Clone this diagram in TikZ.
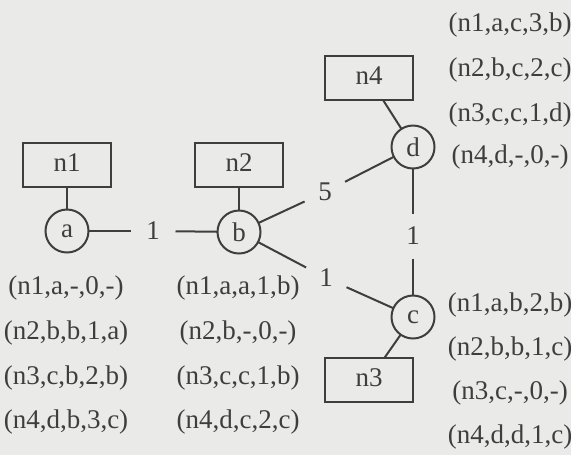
\documentclass[tikz,border=0pt]{standalone}
\usepackage{fontspec}
\setmainfont{Liberation Serif}
\definecolor{paper}{RGB}{234,234,232}
\definecolor{ink}{RGB}{62,62,62}
\begin{document}
\begin{tikzpicture}[x=0.4pt,y=-0.4pt,line width=0.8pt,every node/.style={text=ink, font=\fontsize{10.8}{13}\selectfont, inner sep=0pt, outer sep=0pt},
  router/.style={draw=ink, minimum width=35.2pt, minimum height=17.6pt},
  vertex/.style={draw=ink, circle, minimum size=17.2pt},
  weight/.style={circle, minimum size=18pt},
  entry/.style={anchor=center}]
\fill[paper] (0,0) rectangle (571,455);
\useasboundingbox (0,0) rectangle (571,455);
\node[router] (n1) at (67,165) {n1\strut};
\node[router] (n2) at (239,165) {n2\strut};
\node[router] (n4) at (369,78) {n4\strut};
\node[router] (n3) at (369,380) {n3\strut};
\node[vertex] (a) at (67,231) {a};
\node[vertex] (b) at (239,232) {b};
\node[vertex] (d) at (413,147) {d};
\node[vertex] (c) at (413,317) {c};
\node[weight] (wab) at (153,231) {1};
\node[weight] (wbd) at (325,192) {5};
\node[weight] (wbc) at (326,278) {1};
\node[weight] (wdc) at (413,236) {1};
\draw[ink] (n1) -- (a);
\draw[ink] (n2) -- (b);
\draw[ink] (n4) -- (d);
\draw[ink] (n3) -- (c);
\draw[ink] (a) -- (wab);
\draw[ink] (wab) -- (b);
\draw[ink] (b) -- (wbd);
\draw[ink] (wbd) -- (d);
\draw[ink] (b) -- (wbc);
\draw[ink] (wbc) -- (c);
\draw[ink] (d) -- (wdc);
\draw[ink] (wdc) -- (c);
% table of a
\node[entry] (ta1) at (66,288) {(n1,a,-,0,-)};
\node[entry] (ta2) at (66,333) {(n2,b,b,1,a)};
\node[entry] (ta3) at (66,378) {(n3,c,b,2,b)};
\node[entry] (ta4) at (66,422) {(n4,d,b,3,c)};
% table of b
\node[entry] (tb1) at (238,288) {(n1,a,a,1,b)};
\node[entry] (tb2) at (238,333) {(n2,b,-,0,-)};
\node[entry] (tb3) at (238,378) {(n3,c,c,1,b)};
\node[entry] (tb4) at (238,422) {(n4,d,c,2,c)};
% table of d
\node[entry] (td1) at (510,25) {(n1,a,c,3,b)};
\node[entry] (td2) at (510,70) {(n2,b,c,2,c)};
\node[entry] (td3) at (510,115) {(n3,c,c,1,d)};
\node[entry] (td4) at (510,157) {(n4,d,-,0,-)};
% table of c
\node[entry] (tc1) at (510,305) {(n1,a,b,2,b)};
\node[entry] (tc2) at (510,349) {(n2,b,b,1,c)};
\node[entry] (tc3) at (510,393) {(n3,c,-,0,-)};
\node[entry] (tc4) at (510,437) {(n4,d,d,1,c)};
\end{tikzpicture}
\end{document}
